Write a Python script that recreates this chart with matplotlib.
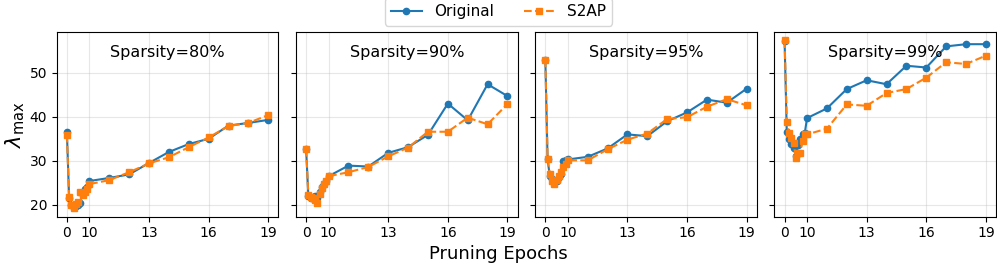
import matplotlib
matplotlib.use('Agg')
import matplotlib.pyplot as plt
import numpy as np

epochs = list(range(20))
sparsities = ['80%', '90%', '95%', '99%']

original = [
    [36.5, 21.5, 20.0, 19.8, 19.8, 20.0, 20.5, 23.0, 23.5, 24.0,
     25.4, 26.1, 26.9, 29.5, 32.0, 33.8, 35.0, 38.0, 38.6, 39.3],
    [32.6, 22.0, 21.5, 21.7, 22.0, 21.5, 23.0, 24.0, 24.8, 25.5,
     26.5, 28.9, 28.7, 31.8, 33.1, 35.9, 43.0, 39.2, 47.4, 44.7],
    [52.8, 30.3, 26.5, 25.8, 25.0, 25.5, 26.3, 27.0, 30.0, 30.2,
     30.3, 30.9, 32.8, 36.0, 35.6, 39.0, 41.0, 43.9, 43.2, 46.4],
    [57.3, 36.5, 35.0, 33.8, 33.0, 31.2, 33.5, 35.0, 36.0, 36.3,
     39.7, 41.9, 46.3, 48.3, 47.4, 51.6, 51.2, 56.0, 56.5, 56.5],
]
s2ap = [
    [35.9, 21.8, 19.9, 19.2, 20.2, 20.6, 23.0, 22.3, 23.0, 23.5,
     24.7, 25.6, 27.4, 29.4, 30.8, 33.1, 35.3, 37.9, 38.6, 40.4],
    [32.7, 22.2, 21.7, 21.5, 21.0, 20.4, 22.5, 23.8, 24.8, 25.5,
     26.5, 27.4, 28.6, 31.0, 33.0, 36.6, 36.6, 39.8, 38.3, 42.9],
    [53.0, 30.5, 27.0, 25.5, 24.7, 25.6, 26.5, 27.5, 28.6, 29.2,
     30.1, 30.1, 32.6, 34.8, 36.2, 39.5, 39.9, 42.3, 44.0, 42.6],
    [57.4, 38.8, 36.4, 35.1, 34.1, 30.6, 31.7, 31.8, 34.5, 36.0,
     36.0, 37.3, 42.8, 42.5, 45.4, 46.3, 48.9, 52.4, 52.0, 53.9],
]
xticks = [0, 10, 13, 16, 19]

# first 10 epochs squeezed together
k = 0.113
def fwd(x):
    x = np.asarray(x, dtype=float)
    return np.where(x <= 10, x * k, 10 * k + (x - 10))

def inv(y):
    y = np.asarray(y, dtype=float)
    return np.where(y <= 10 * k, y / k, y - 10 * k + 10)

fig, axes = plt.subplots(1, 4, figsize=(9.97, 2.63), dpi=100, sharey=True)
fig.subplots_adjust(left=0.057, right=0.999, top=0.879, bottom=0.176, wspace=0.08)

for i, ax in enumerate(axes):
    ax.set_xscale('function', functions=(fwd, inv))
    l1, = ax.plot(epochs, original[i], '-o', color='tab:blue', markersize=4.5,
                  linewidth=1.5, label='Original')
    l2, = ax.plot(epochs, s2ap[i], '--s', color='tab:orange', markersize=4.5,
                  linewidth=1.5, label='S2AP')
    ax.set_xticks(xticks)
    ax.set_xticklabels([str(t) for t in xticks])
    ax.grid(True, alpha=0.3)
    ax.tick_params(labelsize=10)
    ax.text(0.5, 0.89, 'Sparsity=' + sparsities[i], transform=ax.transAxes,
            ha='center', va='center', fontsize=11.5)

axes[0].set_yticks([20, 30, 40, 50])
axes[0].set_ylabel(r'$\lambda_{\max}$', fontsize=15, labelpad=2)

fig.text(0.5, 0.035, 'Pruning Epochs', ha='center', va='center', fontsize=13)
fig.legend([l1, l2], ['Original', 'S2AP'], loc='lower center', ncol=2,
           bbox_to_anchor=(0.5, 0.903), borderaxespad=0, fontsize=11)

plt.savefig('out.png', dpi=100)
